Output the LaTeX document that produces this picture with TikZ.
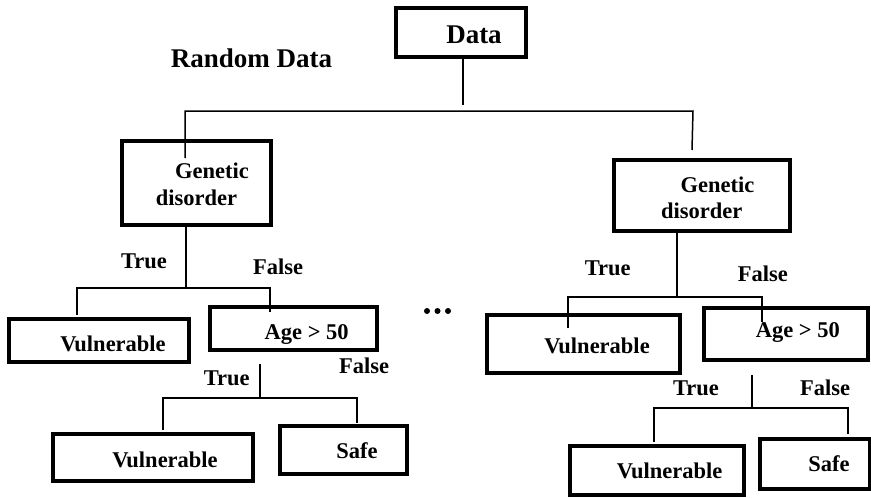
\documentclass[tikz,border=0pt]{standalone}
\usepackage{fontspec}
\setmainfont{Liberation Serif}
\begin{document}
\begin{tikzpicture}[x=1pt,y=-1pt,
  box/.style={draw=black, line width=4pt, inner sep=0pt, fill=none},
  conn/.style={draw=black, line width=1.5pt},
  lbl/.style={anchor=base, inner sep=0pt, font=\fontsize{22.5}{26}\selectfont\bfseries},
  big/.style={anchor=base, inner sep=0pt, font=\fontsize{27}{31}\selectfont\bfseries}]
\useasboundingbox (0,0) rectangle (871,498);
\fill[white] (0,0) rectangle (871,498);
% boxes
\node[box, minimum width=130pt, minimum height=49pt] (data) at (461,32.5) {};
\node[box, minimum width=149pt, minimum height=84pt] (lgen) at (196.5,183) {};
\node[box, minimum width=176pt, minimum height=71pt] (rgen) at (702,195.5) {};
\node[box, minimum width=180pt, minimum height=43pt] (lv1) at (99,340.5) {};
\node[box, minimum width=167pt, minimum height=43pt] (lage) at (293.5,328.5) {};
\node[box, minimum width=200pt, minimum height=47pt] (lv2) at (153,457.5) {};
\node[box, minimum width=127pt, minimum height=48pt] (lsafe) at (343.5,450) {};
\node[box, minimum width=193pt, minimum height=58pt] (rv1) at (583.5,344) {};
\node[box, minimum width=164pt, minimum height=52pt] (rage) at (786,334) {};
\node[box, minimum width=174pt, minimum height=49pt] (rv2) at (657,470.5) {};
\node[box, minimum width=110pt, minimum height=50pt] (rsafe) at (815,464) {};
% texts
\node[big] (trd) at (251.5,67) {Random Data};
\node[big] (tdata) at (474,43) {Data};
\node[lbl] (tlg1) at (212,178) {Genetic};
\node[lbl] (tlg2) at (196.5,205) {disorder};
\node[lbl] (trg1) at (717.5,192) {Genetic};
\node[lbl] (trg2) at (701.7,218) {disorder};
\node[lbl] (tt1) at (144,268) {True};
\node[lbl] (tf1) at (278,274) {False};
\node[lbl] (tlv1) at (113,351) {Vulnerable};
\node[lbl] (tlage) at (306.7,339) {Age > 50};
\node[lbl] (tf2) at (364,373) {False};
\node[lbl] (tt2) at (226.7,385) {True};
\node[lbl] (tlv2) at (165,467) {Vulnerable};
\node[lbl] (tls) at (357,458) {Safe};
\node[lbl] (tt3) at (607.8,275) {True};
\node[lbl] (tf3) at (762.8,281.7) {False};
\node[lbl] (trv1) at (597,353) {Vulnerable};
\node[lbl] (trage) at (797.8,337) {Age > 50};
\node[lbl] (tt4) at (696,395) {True};
\node[lbl] (tf4) at (825,395) {False};
\node[lbl] (trv2) at (669.7,478) {Vulnerable};
\node[lbl] (trs) at (829,471.7) {Safe};
% dots
\fill (427,311) circle (3pt) (437.5,311) circle (3pt) (448,311) circle (3pt);
% junction coordinates
\coordinate (d0) at (463,105);
\coordinate (hL) at (185,111);
\coordinate (hR) at (693,111);
\coordinate (eL) at (185,158);
\coordinate (eR) at (692,150);
\draw[conn] (data.south -| d0) -- (d0);
\draw[conn] (eL) -- (hL) -- (hR) -- (eR);
% left genetic
\coordinate (a1) at (186,288);
\coordinate (a2) at (77,288);
\coordinate (a3) at (270,288);
\coordinate (a4) at (77,315);
\coordinate (a5) at (270,312);
\draw[conn] (lgen.south -| a1) -- (a1);
\draw[conn] (a4) -- (a2) -- (a3) -- (a5);
% left age
\coordinate (b0) at (260,364);
\coordinate (b1) at (260,398);
\coordinate (b2) at (163,398);
\coordinate (b3) at (357,398);
\coordinate (b4) at (163,430);
\coordinate (b5) at (357,423);
\draw[conn] (b0) -- (b1);
\draw[conn] (b4) -- (b2) -- (b3) -- (b5);
% right genetic
\coordinate (c1) at (677,297);
\coordinate (c2) at (568,297);
\coordinate (c3) at (762,297);
\coordinate (c4) at (568,328);
\coordinate (c5) at (762,322);
\draw[conn] (rgen.south -| c1) -- (c1);
\draw[conn] (c4) -- (c2) -- (c3) -- (c5);
% right age
\coordinate (e0) at (752,375);
\coordinate (e1) at (752,408);
\coordinate (e2) at (654,408);
\coordinate (e3) at (848,408);
\coordinate (e4) at (654,442);
\coordinate (e5) at (848,434);
\draw[conn] (e0) -- (e1);
\draw[conn] (e4) -- (e2) -- (e3) -- (e5);
\end{tikzpicture}
\end{document}
